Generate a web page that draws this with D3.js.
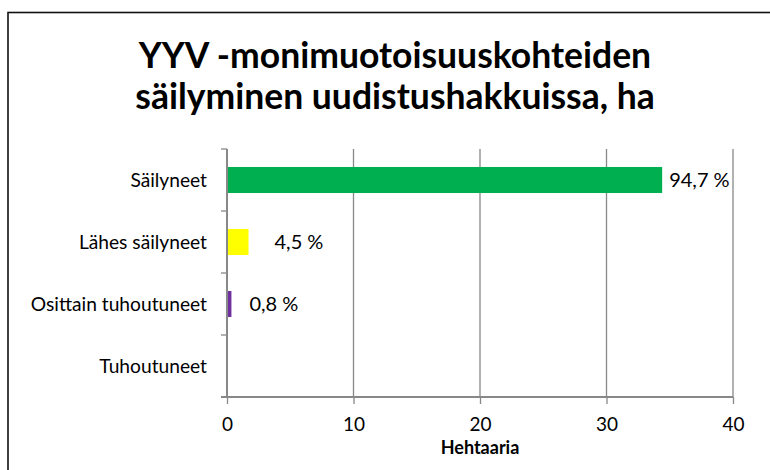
<!DOCTYPE html>
<html>
<head>
<meta charset="utf-8">
<script src="https://d3js.org/d3.v7.min.js"></script>
<style>
  body { margin: 0; background: #fff; }
  text { font-family: Lato, "Open Sans", sans-serif; }
</style>
</head>
<body>
<div id="chart"></div>
<script>
// data (hectares)
var categories = ["Säilyneet", "Lähes säilyneet", "Osittain tuhoutuneet", "Tuhoutuneet"];
var values = [34.4, 1.7, 0.35, 0];
var percentLabels = ["94,7 %", "4,5 %", "0,8 %", null];
var xTicks = [0, 10, 20, 30, 40];
var titleLines = ["YYV -monimuotoisuuskohteiden", "säilyminen uudistushakkuissa, ha"];
var xTitle = "Hehtaaria";

var width = 770,
    height = 470,
    plot = {left: 227, right: 733, top: 149, bottom: 397},
    colors = ["#00b050", "#ffff00", "#7030a0", "#4472c4"],
    labelDx = [7, 26, 18, 18],   // labels were dragged by hand in the original
    axisColor = "#888888";

var svg = d3.select("#chart").append("svg")
    .attr("width", width)
    .attr("height", height);

svg.append("rect")
    .attr("width", width)
    .attr("height", height)
    .attr("fill", "#fff");

// chart frame, runs off the right/bottom edge
svg.append("rect")
    .attr("x", 8)
    .attr("y", 12.5)
    .attr("width", 900)
    .attr("height", 600)
    .attr("fill", "none")
    .attr("stroke", "#111")
    .attr("stroke-width", 1.6);

var x = d3.scaleLinear()
    .domain([xTicks[0], xTicks[xTicks.length - 1]])
    .range([plot.left, plot.right]);

var y = d3.scaleBand()
    .domain(categories)
    .range([plot.top, plot.bottom])
    .paddingInner(0.58)
    .paddingOuter(0.29);

// title
svg.append("g")
    .selectAll("text")
    .data(titleLines).enter()
    .append("text")
    .attr("x", 395)
    .attr("y", function (d, i) { return 68 + i * 41; })
    .attr("text-anchor", "middle")
    .style("font-weight", "bold")
    .style("font-size", "35.5px")
    .attr("fill", "#000")
    .text(function (d) { return d; });

// vertical gridlines
svg.append("g")
    .attr("class", "grid")
    .selectAll("line")
    .data(xTicks.slice(1)).enter()
    .append("line")
    .attr("x1", function (d) { return x(d); })
    .attr("x2", function (d) { return x(d); })
    .attr("y1", plot.top)
    .attr("y2", plot.bottom)
    .attr("stroke", axisColor)
    .attr("stroke-width", 1.3);

// bars
svg.append("g")
    .selectAll("rect")
    .data(values).enter()
    .append("rect")
    .attr("x", x(0))
    .attr("y", function (d, i) { return y(categories[i]); })
    .attr("width", function (d) { return x(d) - x(0); })
    .attr("height", y.bandwidth())
    .attr("fill", function (d, i) { return colors[i]; });

// x axis
var xAxis = svg.append("g")
    .attr("transform", "translate(0," + plot.bottom + ")")
    .call(d3.axisBottom(x).tickValues(xTicks).tickSize(7).tickPadding(14));
xAxis.select(".domain").remove();
xAxis.append("line")
    .attr("x1", plot.left - 6)
    .attr("x2", plot.right)
    .attr("stroke", axisColor)
    .attr("stroke-width", 2);
xAxis.selectAll(".tick line")
    .attr("stroke", axisColor)
    .attr("stroke-width", 1.3);
xAxis.selectAll(".tick text")
    .attr("fill", "#000")
    .style("font-size", "19px");

// y axis with ticks between categories
var yAxis = svg.append("g");
yAxis.append("line")
    .attr("x1", plot.left)
    .attr("x2", plot.left)
    .attr("y1", plot.top)
    .attr("y2", plot.bottom)
    .attr("stroke", axisColor)
    .attr("stroke-width", 2);
var boundaries = categories.map(function (c) { return y(c) - y.step() * y.paddingInner() / 2; });
boundaries.push(plot.bottom);
yAxis.selectAll("line.tick")
    .data(boundaries).enter()
    .append("line")
    .attr("class", "tick")
    .attr("x1", plot.left - 6)
    .attr("x2", plot.left)
    .attr("y1", function (d) { return d; })
    .attr("y2", function (d) { return d; })
    .attr("stroke", axisColor)
    .attr("stroke-width", 1.3);
yAxis.selectAll("text")
    .data(categories).enter()
    .append("text")
    .attr("x", plot.left - 20)
    .attr("y", function (d) { return y(d) + y.bandwidth() / 2; })
    .attr("dy", "0.35em")
    .attr("text-anchor", "end")
    .style("font-size", "19.2px")
    .attr("fill", "#000")
    .text(function (d) { return d; });

// percentage labels
svg.append("g")
    .selectAll("text")
    .data(values).enter()
    .filter(function (d, i) { return percentLabels[i] !== null; })
    .append("text")
    .attr("x", function (d, i) { return x(d) + labelDx[i]; })
    .attr("y", function (d, i) { return y(categories[i]) + y.bandwidth() / 2; })
    .attr("dy", "0.35em")
    .style("font-size", "20px")
    .attr("fill", "#000")
    .text(function (d, i) { return percentLabels[i]; });

// x axis title
svg.append("text")
    .attr("x", (plot.left + plot.right) / 2)
    .attr("y", 454)
    .attr("text-anchor", "middle")
    .style("font-weight", "bold")
    .style("font-size", "18px")
    .attr("fill", "#000")
    .text(xTitle);
</script>
</body>
</html>
